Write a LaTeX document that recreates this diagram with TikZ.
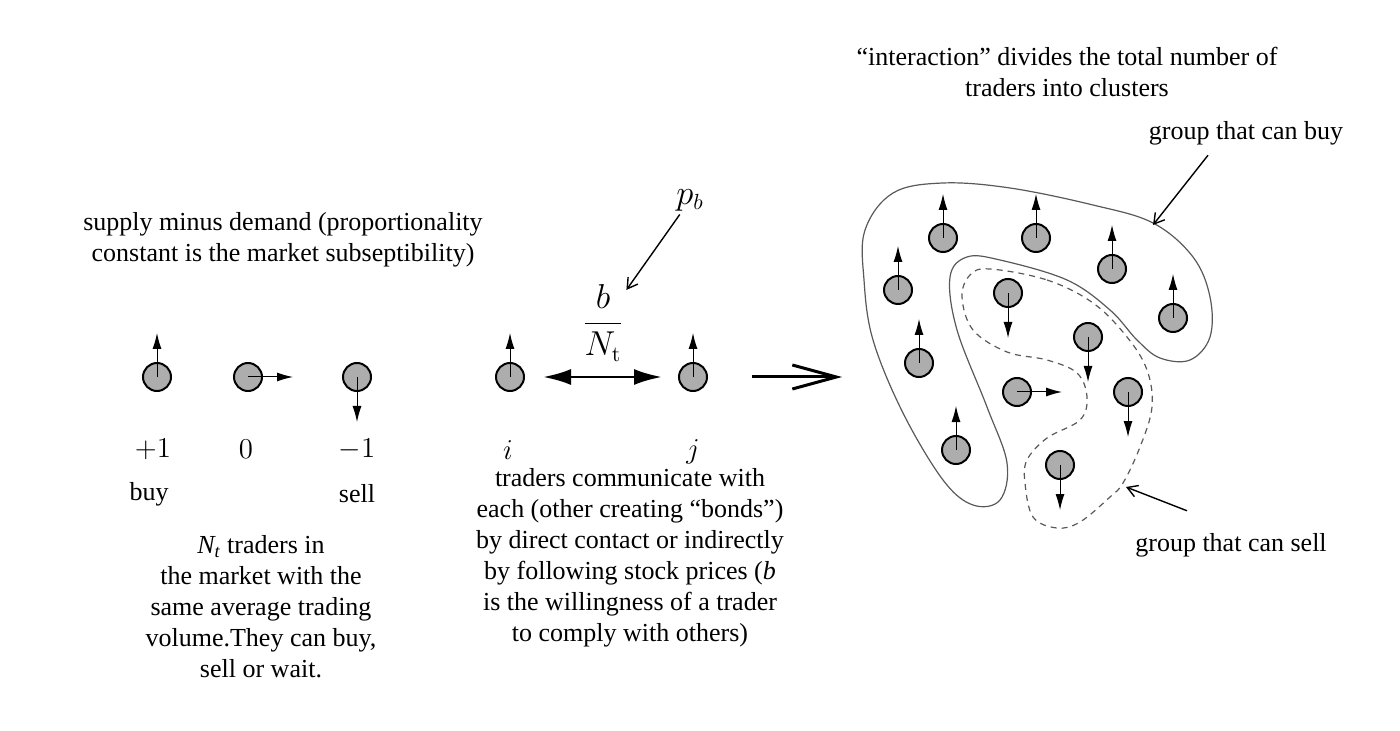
\documentclass[tikz,border=0pt]{standalone}
\usepackage[no-math]{fontspec}
\setmainfont{Liberation Serif}
\usepackage{amsmath}
\usetikzlibrary{arrows.meta, positioning}

\begin{document}
\begin{tikzpicture}[x=0.5pt,y=-0.5pt,
  spin/.style={circle,draw,line width=1pt,fill=black!32,minimum size=14pt,inner sep=0pt},
  spinarrow/.style={-{Latex[length=8pt,width=4.5pt]},line width=0.5pt},
  txt/.style={align=center,font=\fontsize{13}{15.5}\selectfont,inner sep=0pt},
  lbl/.style={font=\fontsize{14}{16}\selectfont,inner sep=0pt},
  big lbl/.style={font=\fontsize{16}{18}\selectfont,inner sep=0pt},
  pointer/.style={-{Straight Barb[length=5pt,width=6pt]},line width=0.7pt},
  bond/.style={{Latex[length=14pt,width=8pt]}-{Latex[length=14pt,width=8pt]},line width=1.4pt},
  implies/.style={-{Straight Barb[length=22pt,width=12pt]},line width=1.5pt},
  cluster/.style={draw=black!65,line width=0.6pt}]

  \useasboundingbox (0,0) rectangle (1400,731);

  % single traders
  \node[spin] (1) at (157,377) {};
  \node[spin] (2) at (248,377) {};
  \node[spin] (3) at (357,377) {};
  \draw[spinarrow] (1.center) -- ++(0,-44);
  \draw[spinarrow] (2.center) -- ++(45,0);
  \draw[spinarrow] (3.center) -- ++(0,45);

  \node[lbl] (v1) at (153,449) {$+1$};
  \node[lbl] (v2) at (246,449) {$0$};
  \node[lbl] (v3) at (357,449) {$-1$};
  \node[txt] (buy) at (149,494) {buy};
  \node[txt] (sell) at (357,494) {sell};

  \node[txt] (supply) at (283,240) {supply minus demand (proportionality\\constant is the market subseptibility)};
  \node[txt] (market) at (261,607) {\textit{N\textsubscript{t}} traders in\\the market with the\\same average trading\\volume.They can buy,\\sell or wait.};

  % pair of traders
  \node[spin] (i) at (510,377) {};
  \node[spin] (j) at (693,377) {};
  \draw[spinarrow] (i.center) -- ++(0,-44);
  \draw[spinarrow] (j.center) -- ++(0,-44);
  \node[lbl] (li) at (508,450) {$i$};
  \node[lbl] (lj) at (693,452) {$j$};
  \draw[bond, shorten <=9pt, shorten >=8pt] (i) -- (j);

  \node[big lbl] (frac) at (603,323) {$\dfrac{b}{N_{\mathrm{t}}}$};
  \node[big lbl] (pb) at (690,200) {$p_b$};
  \draw[pointer, shorten <=2pt, shorten >=2pt] (pb) -- (frac);

  \node[txt] (bonds) at (630,558) {traders communicate with\\each (other creating ``bonds'')\\by direct contact or indirectly\\by following stock prices (\textit{b}\\is the willingness of a trader\\to comply with others)};

  \coordinate (a1) at (752,377);
  \coordinate (a2) at (842,377);
  \draw[implies] (a1) -- (a2);

  % clusters
  \node[txt] (title) at (1067,72) {``interaction'' divides the total number of\\traders into clusters};

  \draw[cluster] plot[smooth cycle, tension=0.6] coordinates {
    (865,230) (893,193) (943,183) (1010,188) (1093,205) (1153,223) (1193,257)
    (1210,297) (1210,337) (1190,360) (1160,358) (1137,340) (1110,310) (1067,280)
    (1000,260) (967,257) (950,277) (957,330) (987,407) (1007,463) (1000,500)
    (973,505) (943,480) (903,413) (873,340) (864,280)};
  \draw[cluster, dash pattern=on 3pt off 2.5pt] plot[smooth cycle, tension=0.6] coordinates {
    (990,269) (1047,280) (1093,303) (1127,337) (1147,370) (1152,407) (1140,447)
    (1123,483) (1110,497) (1080,522) (1057,528) (1033,517) (1025,483) (1027,460)
    (1047,438) (1080,420) (1087,397) (1077,373) (1047,360) (1007,352) (973,330)
    (962,297) (970,275)};

  \foreach \x/\y/\dx/\dy [count=\n] in {943/238/0/-44, 1036/238/0/-44, 1112/269/0/-44,
      898/290/0/-44, 1173/318/0/-44, 919/363/0/-44, 956/450/0/-44, 1008/293/0/45,
      1088/337/0/45, 1128/392/0/45, 1060/465/0/45, 1017/392/45/0} {
    \node[spin] (c\n) at (\x,\y) {};
    \draw[spinarrow] (c\n.center) -- ++(\dx,\dy);
  }

  \node[txt] (buygrp) at (1246,133) {group that can buy};
  \node[txt] (sellgrp) at (1231,545) {group that can sell};
  \coordinate (buyedge) at (1153,225);
  \coordinate (selledge) at (1126,487);
  \draw[pointer] ([xshift=-19pt,yshift=-5pt]buygrp.south) -- (buyedge);
  \draw[pointer] ([xshift=-22pt,yshift=11pt]sellgrp.north) -- (selledge);
\end{tikzpicture}
\end{document}
